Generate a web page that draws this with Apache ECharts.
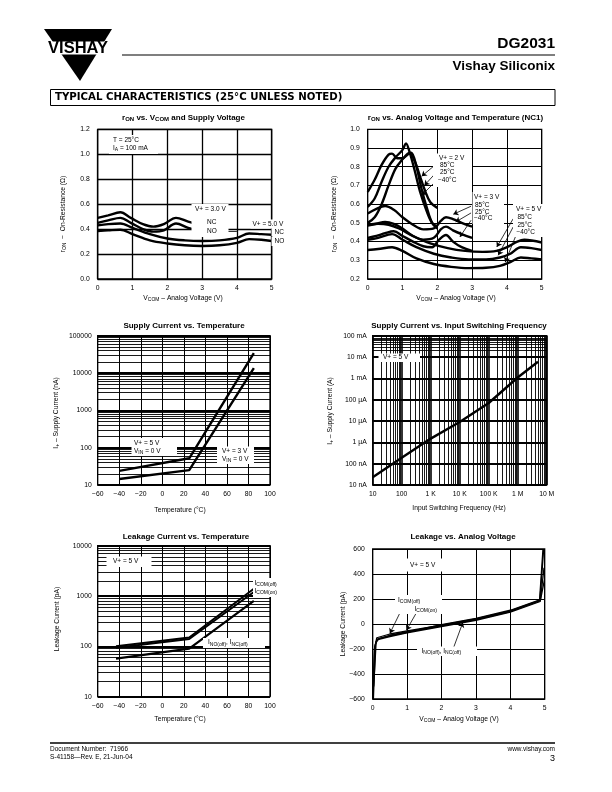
<!DOCTYPE html>
<html><head><meta charset="utf-8">
<script src="https://cdn.jsdelivr.net/npm/echarts@6/dist/echarts.min.js"></script>
<style>html,body{margin:0;padding:0;background:#fff}#c{width:612px;height:792px}</style>
</head><body><div id="c"></div>
<script>
// ---------- DATA ----------
// Chart 1: rON vs VCOM and supply voltage  [V, ohm]
const ron3V_NC = [[0,0.49],[0.3,0.51],[0.65,0.535],[0.95,0.49],[1.3,0.44],[1.6,0.42],[1.9,0.44],[2.25,0.49],[2.6,0.46],[3.0,0.43]];
const ron3V_NO = [[0,0.45],[0.3,0.47],[0.65,0.49],[0.95,0.45],[1.3,0.40],[1.6,0.38],[1.9,0.39],[2.25,0.445],[2.6,0.41],[3.0,0.38]];
const ron5V_NC = [[0,0.43],[0.3,0.44],[0.65,0.445],[1.0,0.41],[1.5,0.36],[2.0,0.325],[2.5,0.31],[3.0,0.305],[3.5,0.31],[4.0,0.33],[4.35,0.365],[4.7,0.36],[5.0,0.355]];
const ron5V_NO = [[0,0.385],[0.3,0.39],[0.65,0.395],[1.0,0.36],[1.5,0.31],[2.0,0.285],[2.5,0.27],[3.0,0.265],[3.5,0.27],[4.0,0.29],[4.35,0.32],[4.7,0.315],[5.0,0.305]];
// Chart 2: rON vs analog voltage and temperature (NC1)
const nc1_2V_85 = [[0,0.665],[0.2,0.73],[0.4,0.81],[0.6,0.865],[0.7,0.87],[0.85,0.845],[1.0,0.845],[1.2,0.87],[1.35,0.83],[1.5,0.75],[1.65,0.67],[1.8,0.61],[2.0,0.58]];
const nc1_2V_25 = [[0,0.585],[0.2,0.63],[0.4,0.72],[0.6,0.80],[0.8,0.85],[1.0,0.89],[1.1,0.925],[1.2,0.88],[1.35,0.78],[1.5,0.67],[1.7,0.56],[1.85,0.5],[2.0,0.48]];
const nc1_2V_m40 = [[0,0.50],[0.2,0.53],[0.4,0.6],[0.6,0.7],[0.8,0.79],[1.0,0.84],[1.15,0.87],[1.25,0.875],[1.4,0.8],[1.55,0.68],[1.7,0.58],[1.85,0.5],[2.0,0.47]];
const nc1_3V_85 = [[0,0.55],[0.25,0.575],[0.5,0.59],[0.75,0.57],[1.0,0.53],[1.3,0.49],[1.6,0.465],[1.9,0.47],[2.1,0.51],[2.25,0.53],[2.45,0.52],[2.7,0.5],[3.0,0.48]];
const nc1_3V_25 = [[0,0.485],[0.25,0.495],[0.5,0.505],[0.75,0.495],[1.0,0.47],[1.3,0.43],[1.6,0.41],[1.9,0.42],[2.1,0.465],[2.25,0.48],[2.45,0.46],[2.7,0.44],[3.0,0.42]];
const nc1_3V_m40 = [[0,0.42],[0.25,0.43],[0.5,0.445],[0.75,0.455],[1.0,0.43],[1.3,0.40],[1.6,0.375],[1.85,0.37],[2.05,0.41],[2.25,0.435],[2.45,0.40],[2.7,0.37],[3.0,0.35]];
const nc1_5V_85 = [[0,0.49],[0.3,0.495],[0.6,0.49],[0.9,0.47],[1.3,0.43],[1.8,0.39],[2.3,0.365],[2.8,0.35],[3.3,0.345],[3.7,0.35],[4.0,0.37],[4.3,0.4],[4.5,0.41],[5.0,0.395]];
const nc1_5V_25 = [[0,0.41],[0.3,0.42],[0.7,0.44],[1.0,0.41],[1.4,0.37],[1.9,0.335],[2.4,0.315],[2.9,0.305],[3.4,0.305],[3.8,0.315],[4.1,0.335],[4.4,0.37],[4.7,0.365],[5.0,0.355]];
const nc1_5V_m40 = [[0,0.355],[0.3,0.36],[0.7,0.37],[1.0,0.35],[1.4,0.31],[1.9,0.28],[2.4,0.265],[2.9,0.258],[3.4,0.26],[3.8,0.27],[4.1,0.29],[4.4,0.315],[4.7,0.31],[5.0,0.305]];
// Chart 3: supply current vs temperature [degC, nA]
const isup5V = [[-40,24],[25,52],[85,34000]];
const isup3V = [[-40,14.5],[25,25],[85,13500]];
// Chart 4: supply current vs input switching frequency [Hz, A]
const freqHz = [10,100,1e3,1e4,1e5,1e6,5e6];
const isupFreq = [2.3e-8,1.9e-7,1.5e-6,9e-6,7e-5,1.1e-3,6e-3];
const freqTicks = ['10','100','1 K','10 K','100 K','1 M','10 M'];
const currTicks = ['10 nA','100 nA','1 \u00B5A','10 \u00B5A','100 \u00B5A','1 mA','10 mA','100 mA'];
// Chart 5: leakage vs temperature [degC, pA]
const leakCOMoff = [[-43,100],[25,150],[85,1400]];
const leakCOMon = [[-43,94],[25,140],[85,1200]];
const leakNOoff = [[-43,57],[25,90],[85,800]];
// Chart 6: leakage vs analog voltage [V, pA]
const lvCOMoff = [[0,-600],[0.05,-200],[0.12,-110],[0.5,-80],[1,-55],[2,-10],[3,40],[4,105],[4.85,190],[4.95,600]];
const lvCOMon = [[0.01,-560],[0.06,-180],[0.13,-120],[0.5,-90],[1,-62],[2,-15],[3,35],[4,100],[4.86,185],[4.97,600]];
const lvNOoff = [[0.02,-600],[0.08,-160],[0.15,-125],[0.5,-100],[1,-70],[2,-20],[3,30],[4,95],[4.87,180],[4.98,450]];
const lvNCoff = [[0.03,-500],[0.1,-140],[0.2,-115],[0.5,-95],[1,-66],[2,-5],[3,45],[4,110],[4.88,195],[4.99,350]];

// ---------- LAYOUT / STYLE ----------
const FF = '"Liberation Sans", Arial, Helvetica, sans-serif';
const grids = [
  {left:97.7, top:129.3, width:174, height:149.7},
  {left:367.7, top:129.3, width:174, height:149.7},
  {left:97.7, top:335.7, width:172.3, height:149.3},
  {left:372.7, top:335.7, width:174, height:149.3},
  {left:97.7, top:545.7, width:172.3, height:151},
  {left:372.7, top:549, width:172, height:150}
].map(g => Object.assign(g, {show:true, borderColor:'#000', borderWidth:1.3, containLabel:false}));

const minus = v => (v < 0 ? '\u2212' + (-v) : String(v));
const lg = v => Math.round(Math.log10(v));

function axis(i, o, lw) {
  return Object.assign({
    gridIndex:i, type:'value',
    axisLine:{show:false}, axisTick:{show:false},
    axisLabel:{color:'#000', fontSize:6.8, fontFamily:FF, margin:6},
    splitLine:{show:true, lineStyle:{color:'#000', width:lw || 1}}
  }, o);
}
const xAxes = [
  axis(0,{min:0,max:5,interval:1},1.3),
  axis(1,{min:0,max:5,interval:1},1),
  axis(2,{min:-60,max:100,interval:20,axisLabel:{color:'#000',fontSize:6.8,fontFamily:FF,margin:6,formatter:minus}},1),
  axis(3,{type:'log',logBase:10,min:10,max:1e7,axisLabel:{color:'#000',fontSize:6.8,fontFamily:FF,margin:6,formatter:v=>freqTicks[lg(v)-1]}},1.6),
  axis(4,{min:-60,max:100,interval:20,axisLabel:{color:'#000',fontSize:6.8,fontFamily:FF,margin:6,formatter:minus}},1),
  axis(5,{min:0,max:5,interval:1},1)
];
const yAxes = [
  axis(0,{min:0,max:1.2,interval:0.2,axisLabel:{color:'#000',fontSize:6.8,fontFamily:FF,margin:8,formatter:v=>v.toFixed(1)}},1.3),
  axis(1,{min:0.2,max:1.0,interval:0.1,axisLabel:{color:'#000',fontSize:6.8,fontFamily:FF,margin:8,formatter:v=>v.toFixed(1)}},1),
  axis(2,{type:'log',logBase:10,min:10,max:1e5,axisLabel:{color:'#000',fontSize:6.8,fontFamily:FF,margin:6,formatter:v=>String(Math.round(v))}},1.8),
  axis(3,{type:'log',logBase:10,min:1e-8,max:1e-1,axisLabel:{color:'#000',fontSize:6.8,fontFamily:FF,margin:6,formatter:v=>currTicks[lg(v)+8]}},1.8),
  axis(4,{type:'log',logBase:10,min:10,max:1e4,axisLabel:{color:'#000',fontSize:6.8,fontFamily:FF,margin:6,formatter:v=>String(Math.round(v))}},1.8),
  axis(5,{min:-600,max:600,interval:200,axisLabel:{color:'#000',fontSize:6.8,fontFamily:FF,margin:8,formatter:minus}},1)
];

function logMinors(lo, hi) { const a = []; for (let e = lo; e < hi; e++) for (let k = 2; k <= 9; k++) a.push(k * Math.pow(10, e)); return a; }
const gridML = (vals, key) => ({silent:true, symbol:['none','none'], label:{show:false}, animation:false,
  lineStyle:{color:'#000', width:0.9, type:'solid'}, emphasis:{disabled:true},
  data: vals.map(v => ({[key]: v}))});
const arrowML = (pairs, head) => ({silent:true, symbol:['none', head ? 'arrow' : 'none'], symbolSize:5, label:{show:false}, animation:false,
  lineStyle:{color:'#000', width:0.8, type:'solid'}, emphasis:{disabled:true},
  data: pairs.map(p => [{coord:p[0]},{coord:p[1]}])});

function ln(i, data, extra) {
  return Object.assign({type:'line', xAxisIndex:i, yAxisIndex:i, data, symbol:'none', silent:true, z:3,
    lineStyle:{color:'#000', width:2.4}, smooth:0.35, animation:false}, extra || {});
}
const series = [
  ln(0, ron3V_NC, {markLine: arrowML([[[3.55,0.381],[4.0,0.381]]], false)}),
  ln(0, ron3V_NO), ln(0, ron5V_NC), ln(0, ron5V_NO),
  ln(1, nc1_2V_85, {markLine: arrowML([
      [[1.98,0.816],[1.55,0.749]], [[1.98,0.772],[1.63,0.70]], [[1.98,0.727],[1.55,0.647]],
      [[2.97,0.589],[2.46,0.546]], [[2.97,0.553],[2.53,0.505]], [[2.97,0.514],[2.65,0.425]],
      [[4.18,0.522],[3.71,0.371]], [[4.18,0.478],[3.75,0.327]], [[4.28,0.442],[3.95,0.29]]], true)}),
  ln(1, nc1_2V_25), ln(1, nc1_2V_m40), ln(1, nc1_3V_85), ln(1, nc1_3V_25), ln(1, nc1_3V_m40),
  ln(1, nc1_5V_85), ln(1, nc1_5V_25), ln(1, nc1_5V_m40),
  ln(2, isup5V, {smooth:false, markLine: gridML(logMinors(1,5), 'yAxis')}),
  ln(2, isup3V, {smooth:false}),
  ln(3, freqHz.map((f,k)=>[f, isupFreq[k]]), {smooth:false, markLine: gridML(logMinors(-8,-1), 'yAxis')}),
  ln(3, [], {smooth:false, markLine: gridML(logMinors(1,7), 'xAxis')}),
  ln(4, leakCOMoff, {smooth:false, lineStyle:{color:'#000', width:2}, markLine: gridML(logMinors(1,4), 'yAxis')}),
  ln(4, leakCOMon, {smooth:false, lineStyle:{color:'#000', width:2}}),
  ln(4, leakNOoff, {smooth:false, lineStyle:{color:'#000', width:2.2}}),
  ln(5, lvCOMoff, {smooth:false, lineStyle:{color:'#000', width:1.3}, markLine: arrowML([
      [[0.9,150],[0.5,-75]], [[1.25,80],[0.98,-50]], [[2.35,-190],[2.62,12]]], true)}),
  ln(5, lvCOMon, {smooth:false, lineStyle:{color:'#000', width:1.3}}),
  ln(5, lvNOoff, {smooth:false, lineStyle:{color:'#000', width:1.3}}),
  ln(5, lvNCoff, {smooth:false, lineStyle:{color:'#000', width:1.3}})
];

// ---------- TEXT ----------
const SUB = {fontSize:5, fontFamily:FF, padding:[3,0,0,0]};
const SUBB = {fontSize:6, fontFamily:FF, fontWeight:'bold', padding:[3,0,0,0]};
function T(x, y, text, o) {
  o = o || {};
  const el = {type:'text', x, y, z:100, rotation:o.rot || 0, silent:true,
    style:{text, fill:'#000', fontFamily:o.ff || FF, fontSize:o.size || 6.5, fontWeight:o.bold ? 'bold' : 'normal',
      align:o.align || 'left', verticalAlign:'middle', rich:{s: o.bold ? SUBB : SUB}}};
  if (o.bg) { el.style.backgroundColor = '#fff'; el.style.padding = o.pad || [1,2]; }
  return el;
}
function R(x, y, w, h, o) {
  o = o || {};
  return {type:'rect', z: o.z || 90, silent:true, shape:{x, y, width:w, height:h},
    style:{fill: o.fill || '#fff', stroke: o.stroke || null, lineWidth: o.lw || 1}};
}
const TB = {bold:true, size:8, align:'center'};
const AX = {size:6.7, align:'center'};
const AY = {size:6.7, align:'center', rot:Math.PI/2};

const graphic = [
  // header logo
  {type:'polygon', z:50, silent:true, shape:{points:[[44,29],[112,29],[80,81]]}, style:{fill:'#000'}},
  R(40, 41.5, 76, 13, {z:60}),
  T(78, 48.5, 'VISHAY', {bold:true, size:16.5, align:'center'}),
  {type:'line', silent:true, shape:{x1:122, y1:55, x2:555, y2:55}, style:{stroke:'#000', lineWidth:1.2}},
  T(555, 44, 'DG2031', {bold:true, size:15.5, align:'right'}),
  T(555, 66, 'Vishay Siliconix', {bold:true, size:13.5, align:'right'}),
  R(50.5, 89.5, 504.5, 16, {fill:'#fff', stroke:'#000', lw:1}),
  T(55, 97.5, 'TYPICAL CHARACTERISTICS (25\u00B0C UNLESS NOTED)', {bold:true, size:10.2, ff:'"DejaVu Sans", sans-serif'}),
  // footer
  {type:'line', silent:true, shape:{x1:50, y1:743, x2:555, y2:743}, style:{stroke:'#000', lineWidth:1.5}},
  T(50, 749.5, 'Document Number:  71966', {size:6.5}),
  T(50, 757.5, 'S-41158\u2014Rev. E, 21-Jun-04', {size:6.5}),
  T(555, 749.5, 'www.vishay.com', {size:6.5, align:'right'}),
  T(555, 758.5, '3', {size:9, align:'right'}),
  // titles
  T(183.5, 118, 'r{s|ON} vs. V{s|COM} and Supply Voltage', TB),
  T(455.5, 118, 'r{s|ON} vs. Analog Voltage and Temperature (NC1)', TB),
  T(184, 325.5, 'Supply Current vs. Temperature', TB),
  T(459, 325.5, 'Supply Current vs. Input Switching Frequency', TB),
  T(186, 536.5, 'Leakage Current vs. Temperature', TB),
  T(463, 536.5, 'Leakage vs. Analog Voltage', TB),
  // axis names
  T(183, 298.5, 'V{s|COM} \u2013 Analog Voltage (V)', AX),
  T(456, 298.5, 'V{s|COM} \u2013 Analog Voltage (V)', AX),
  T(180, 510, 'Temperature (\u00B0C)', AX),
  T(459, 508.5, 'Input Switching Frequency (Hz)', AX),
  T(180, 719.5, 'Temperature (\u00B0C)', AX),
  T(459, 719.5, 'V{s|COM} \u2013 Analog Voltage (V)', AX),
  T(63, 214, 'r{s|ON}  \u2212  On-Resistance (\u03A9)', AY),
  T(334, 214, 'r{s|ON}  \u2212  On-Resistance (\u03A9)', AY),
  T(56, 413, 'I{s|+} \u2013 Supply Current (nA)', AY),
  T(330, 411, 'I{s|+} \u2013 Supply Current (A)', AY),
  T(57, 619, 'Leakage Current (pA)', AY),
  T(343, 624, 'Leakage Current (pA)', AY),
  // chart 1 annotations
  R(109, 135, 49, 19),
  T(113, 140.5, 'T = 25\u00B0C'),
  T(113, 148, 'I{s|A} = 100 mA'),
  R(191.5, 204, 37, 33),
  T(195, 209, 'V+ = 3.0 V'),
  T(207, 222, 'NC'),
  T(207, 231.5, 'NO'),
  T(250.5, 224, 'V+ = 5.0 V', {bg:true}),
  T(271.5, 232, 'NC', {bg:true, pad:[1,3]}),
  T(271.5, 241.5, 'NO', {bg:true, pad:[1,3]}),
  // chart 2 annotations
  R(433, 153.5, 39, 33.5),
  T(439, 158.7, 'V+ = 2 V'), T(440, 165.2, '85\u00B0C'), T(440, 172.7, '25\u00B0C'), T(438, 180.3, '\u221240\u00B0C'),
  R(472.5, 192, 31.5, 32),
  T(474, 197, 'V+ = 3 V'), T(475, 205, '85\u00B0C'), T(475, 212, '25\u00B0C'), T(474, 218.7, '\u221240\u00B0C'),
  R(513, 204, 33, 33),
  T(516, 209.3, 'V+ = 5 V'), T(517.5, 217.7, '85\u00B0C'), T(517.5, 225.5, '25\u00B0C'), T(516.5, 232.7, '\u221240\u00B0C'),
  // chart 3 annotations
  R(131.5, 438, 45.5, 18),
  T(134, 443, 'V+ = 5 V'), T(134, 451, 'V{s|IN} = 0 V'),
  R(217, 446.5, 37, 17.5),
  T(222, 451, 'V+ = 3 V'), T(222, 459, 'V{s|IN} = 0 V'),
  // chart 4
  R(378.5, 353.5, 41.5, 8.5),
  T(383, 357.7, 'V+ = 5 V'),
  // chart 5
  R(106.5, 556.5, 45, 10.5),
  T(113, 561.7, 'V+ = 5 V'),
  R(253, 578, 30, 19),
  T(254.5, 583.5, 'I{s|COM(off)}'), T(254.5, 591.5, 'I{s|COM(on)}'),
  R(203, 638, 62, 10),
  T(208, 642.7, 'I{s|NO(off)}, I{s|NC(off)}'),
  // chart 6
  R(406, 558.5, 36, 13),
  T(410, 565, 'V+ = 5 V'),
  R(395, 595, 47, 19),
  T(398, 600, 'I{s|COM(off)}'), T(414.5, 609, 'I{s|COM(on)}'),
  R(417, 646.5, 60, 9.5),
  T(421.5, 651, 'I{s|NO(off)}, I{s|NC(off)}')
];

const chart = echarts.init(document.getElementById('c'), null, {renderer:'canvas'});
chart.setOption({animation:false, backgroundColor:'#fff', grid:grids, xAxis:xAxes, yAxis:yAxes, series, graphic});
</script></body></html>
